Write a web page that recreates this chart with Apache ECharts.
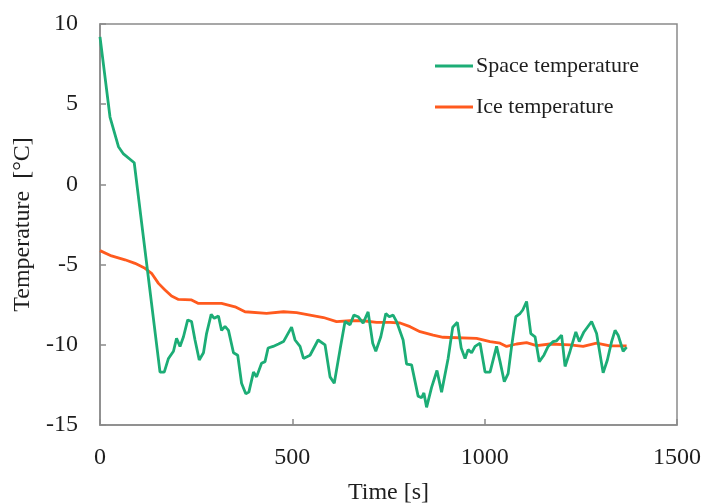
<!DOCTYPE html>
<html>
<head>
<meta charset="utf-8">
<script src="https://cdn.jsdelivr.net/npm/echarts@6/dist/echarts.min.js"></script>
<style>
  html, body { margin: 0; padding: 0; background: #fff; }
  #chart { width: 705px; height: 504px; }
</style>
</head>
<body>
<div id="chart"></div>
<script>
// Data
var spaceTime = [0, 26, 48, 61, 89, 156, 167, 178, 191, 199, 208, 217, 228, 238, 247, 258, 269, 277, 289, 297,
  308, 316, 325, 334, 347, 358, 368, 379, 387, 399, 407, 420, 429, 437, 450, 464, 477, 498, 507, 520,
  529, 546, 567, 585, 598, 609, 624, 637, 650, 660, 671, 684, 697, 709, 717, 730, 743, 752, 762, 771,
  788, 797, 810, 827, 836, 842, 849, 862, 876, 888, 905, 917, 929, 939, 949, 957, 966, 975, 988, 1001,
  1014, 1031, 1040, 1051, 1061, 1070, 1081, 1092, 1099, 1109, 1120, 1131, 1142, 1154, 1165, 1178, 1187, 1200, 1209, 1222,
  1237, 1246, 1258, 1278, 1291, 1308, 1319, 1330, 1339, 1347, 1360, 1369];
var spaceTemp = [9.2, 4.2, 2.35, 1.9, 1.35, -11.7, -11.7, -10.85, -10.4, -9.6, -10.1, -9.5, -8.45, -8.55, -9.7, -10.95, -10.5, -9.3, -8.1, -8.35,
  -8.2, -9.1, -8.85, -9.1, -10.5, -10.65, -12.4, -13.05, -12.95, -11.7, -12.0, -11.15, -11.05, -10.2, -10.1, -9.95, -9.8, -8.9, -9.7, -10.1,
  -10.85, -10.65, -9.7, -10.0, -12.0, -12.4, -10.3, -8.55, -8.75, -8.15, -8.25, -8.65, -7.95, -9.9, -10.4, -9.5, -8.05, -8.25, -8.15, -8.55,
  -9.7, -11.2, -11.25, -13.2, -13.3, -13.0, -13.9, -12.65, -11.6, -12.95, -10.85, -8.9, -8.6, -10.2, -10.85, -10.3, -10.5, -10.1, -9.9, -11.7,
  -11.7, -10.1, -11.05, -12.3, -11.8, -10.1, -8.25, -8.05, -7.83, -7.3, -9.3, -9.5, -11.05, -10.65, -10.1, -9.8, -9.75, -9.4, -11.35, -10.4,
  -9.2, -9.8, -9.2, -8.55, -9.3, -11.75, -10.95, -9.8, -9.1, -9.4, -10.4, -10.15];

var iceTime = [0, 30, 65, 91, 117, 134, 152, 169, 186, 204, 238, 256, 316, 351, 377, 433, 477, 511, 546, 581,
  615, 650, 684, 719, 754, 780, 806, 832, 866, 892, 979, 1014, 1040, 1057, 1083, 1109, 1135, 1170, 1222, 1256,
  1291, 1326, 1369];
var iceTemp = [-4.13, -4.46, -4.7, -4.92, -5.23, -5.54, -6.17, -6.58, -6.96, -7.17, -7.2, -7.42, -7.42, -7.63, -7.94, -8.04, -7.94, -8.0, -8.15, -8.3,
  -8.55, -8.5, -8.5, -8.6, -8.6, -8.64, -8.87, -9.18, -9.4, -9.53, -9.6, -9.8, -9.9, -10.1, -9.95, -9.87, -10.05, -9.95, -10.0, -10.1,
  -9.9, -10.07, -10.07];

var seriesNames = ['Space temperature', 'Ice temperature'];

function pairs(xs, ys) {
  var out = [];
  for (var i = 0; i < xs.length; i++) out.push([xs[i], ys[i]]);
  return out;
}

var font = '"Liberation Serif", "Times New Roman", serif';
var axisGrey = '#8a8a8a';
var textColor = '#1e1e1e';

var myChart = echarts.init(document.getElementById('chart'));

var option = {
  backgroundColor: '#fff',
  animation: false,
  grid: {
    left: 100,
    top: 24,
    right: 28,
    bottom: 79,
    show: true,
    borderColor: axisGrey,
    borderWidth: 1.5,
    containLabel: false,
    outerBoundsMode: 'none'
  },
  legend: {
    orient: 'vertical',
    left: 430,
    top: 50,
    itemGap: 19,
    itemWidth: 38,
    itemHeight: 3,
    icon: 'rect',
    data: seriesNames,
    textStyle: { fontFamily: font, fontSize: 22, color: textColor, padding: [0, 0, 0, -2] }
  },
  xAxis: {
    type: 'value',
    min: 0,
    max: 1500,
    interval: 500,
    name: 'Time [s]',
    nameLocation: 'middle',
    nameGap: 56,
    nameTextStyle: { fontFamily: font, fontSize: 24, color: textColor },
    axisLine: { show: true, onZero: false, lineStyle: { color: axisGrey, width: 1.5 } },
    axisTick: { show: true, inside: true, length: 6, lineStyle: { color: axisGrey, width: 1.5 } },
    axisLabel: { fontFamily: font, fontSize: 24, color: textColor, margin: 21, formatter: function (v) { return String(v); } },
    splitLine: { show: false }
  },
  yAxis: {
    type: 'value',
    min: -15,
    max: 10,
    interval: 5,
    name: 'Temperature  [°C]',
    nameLocation: 'middle',
    nameGap: 59,
    nameTextStyle: { fontFamily: font, fontSize: 24, color: textColor },
    axisLine: { show: true, onZero: false, lineStyle: { color: axisGrey, width: 1.5 } },
    axisTick: { show: true, inside: true, length: 6, lineStyle: { color: axisGrey, width: 1.5 } },
    axisLabel: { fontFamily: font, fontSize: 24, color: textColor, margin: 22, formatter: function (v) { return String(v); } },
    splitLine: { show: false }
  },
  series: [
    {
      name: seriesNames[0],
      type: 'line',
      data: pairs(spaceTime, spaceTemp),
      symbol: 'none',
      color: '#1cad76',
      lineStyle: { width: 2.8, color: '#1cad76' },
      z: 3
    },
    {
      name: seriesNames[1],
      type: 'line',
      data: pairs(iceTime, iceTemp),
      symbol: 'none',
      color: '#ff5a1e',
      lineStyle: { width: 2.8, color: '#ff5a1e' },
      z: 2
    }
  ]
};

myChart.setOption(option);
</script>
</body>
</html>
